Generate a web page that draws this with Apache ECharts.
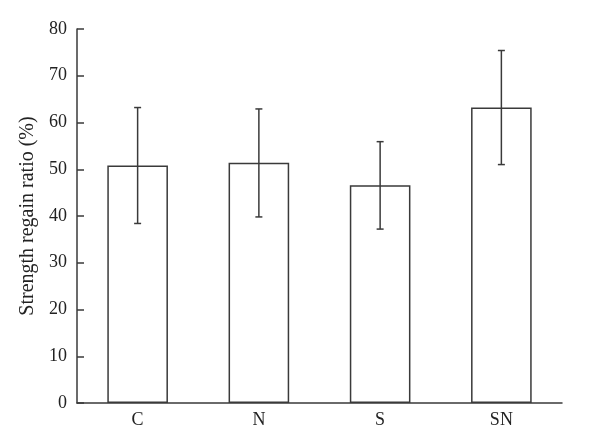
<!DOCTYPE html>
<html>
<head>
<meta charset="utf-8">
<script src="https://cdn.jsdelivr.net/npm/echarts@6/dist/echarts.min.js"></script>
<style>html,body{margin:0;padding:0;background:#fff;}#c{width:600px;height:447px;}</style>
</head>
<body>
<div id="c"></div>
<script>
const categories = ['C', 'N', 'S', 'SN'];
const means = [50.8, 51.4, 46.6, 63.2];
const errLow = [38.4, 39.8, 37.2, 51.0];
const errHigh = [63.2, 62.9, 55.9, 75.4];
const yTicks = [0, 10, 20, 30, 40, 50, 60, 70, 80];

const chart = echarts.init(document.getElementById('c'), null, {renderer: 'canvas'});
const font = 'Liberation Serif';
const lineColor = '#3a3a3a';
chart.setOption({
  animation: false,
  grid: {left: 77, right: 38, top: 29, bottom: 44},
  xAxis: {
    type: 'category',
    data: categories,
    boundaryGap: true,
    axisLine: {lineStyle: {color: lineColor, width: 1.5}},
    axisTick: {show: false},
    axisLabel: {color: '#222', fontFamily: font, fontSize: 18, margin: 8}
  },
  yAxis: {
    type: 'value',
    min: yTicks[0], max: yTicks[yTicks.length - 1], interval: 10,
    name: 'Strength regain ratio (%)',
    nameLocation: 'middle',
    nameGap: 36,
    nameTextStyle: {color: '#222', fontFamily: font, fontSize: 20},
    axisLine: {show: true, lineStyle: {color: lineColor, width: 1.5}},
    axisTick: {show: true, inside: true, length: 7, lineStyle: {color: lineColor, width: 1.5}},
    splitLine: {show: false},
    axisLabel: {color: '#222', fontFamily: font, fontSize: 18, margin: 10}
  },
  series: [
    {
      type: 'bar',
      data: means,
      barWidth: '50%',
      itemStyle: {color: '#fff', borderColor: lineColor, borderWidth: 1.5}
    },
    {
      type: 'custom',
      data: categories.map((c, i) => [i, errLow[i], errHigh[i]]),
      z: 10,
      renderItem: function (params, api) {
        const x = api.value(0);
        const lo = api.coord([x, api.value(1)]);
        const hi = api.coord([x, api.value(2)]);
        const cap = 3.5;
        const style = {stroke: lineColor, lineWidth: 1.5, fill: null};
        return {
          type: 'group',
          children: [
            {type: 'line', shape: {x1: hi[0], y1: hi[1], x2: lo[0], y2: lo[1]}, style: style},
            {type: 'line', shape: {x1: hi[0] - cap, y1: hi[1], x2: hi[0] + cap, y2: hi[1]}, style: style},
            {type: 'line', shape: {x1: lo[0] - cap, y1: lo[1], x2: lo[0] + cap, y2: lo[1]}, style: style}
          ]
        };
      }
    }
  ]
});
</script>
</body>
</html>
